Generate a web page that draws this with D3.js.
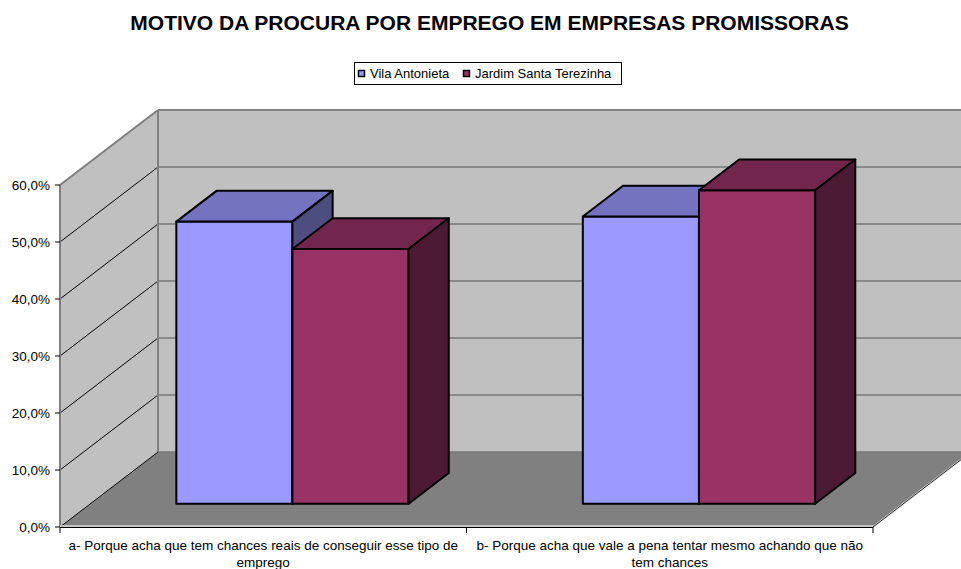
<!DOCTYPE html>
<html>
<head>
<meta charset="utf-8">
<script src="https://cdn.jsdelivr.net/npm/d3@7/dist/d3.min.js"></script>
<style>
  html, body { margin: 0; padding: 0; background: #fff; }
  svg { display: block; font-family: Arial, "Liberation Sans", sans-serif; }
</style>
</head>
<body>
<svg id="chart" width="961" height="569"></svg>
<script>
// Survey answers: why people look for work in promising companies
const categories = [
  ["a- Porque acha que tem chances reais de conseguir esse tipo de", "emprego"],
  ["b- Porque acha que vale a pena tentar mesmo achando que não", "tem chances"]
];
const seriesNames = ["Vila Antonieta", "Jardim Santa Terezinha"];
const vilaAntonieta = [0.495, 0.504];
const jardimSantaTerezinha = [0.447, 0.550];
const yTicks = [0, 0.1, 0.2, 0.3, 0.4, 0.5, 0.6];

const seriesValues = [vilaAntonieta, jardimSantaTerezinha];
const faceColors = [
  { front: "#9999FF", top: "#7373BF", side: "#4D4D80" },
  { front: "#993366", top: "#73264D", side: "#4D1A33" }
];

const svg = d3.select("#chart");

// Oblique projection: depth fraction d shifts points right and up
const depthDX = 98, depthDY = -75;
const catIdx = categories.map((c, i) => i);
const x = d3.scaleBand().domain(catIdx).range([60, 873]).padding(0);
const y = d3.scaleLinear().domain([0, 0.6]).range([527, 185]);
const proj = (px, v, d) => [px + d * depthDX, y(v) + d * depthDY];
const poly = pts => pts.map(p => p.join(",")).join(" ");

// Title
svg.append("text")
  .attr("x", 489.5).attr("y", 30)
  .attr("text-anchor", "middle")
  .attr("font-size", 21).attr("font-weight", "bold")
  .text("MOTIVO DA PROCURA POR EMPREGO EM EMPRESAS PROMISSORAS");

// Legend
const legend = svg.append("g");
legend.append("rect").attr("x", 354.5).attr("y", 62.5).attr("width", 267).attr("height", 22)
  .attr("fill", "#fff").attr("stroke", "#000");
const legendX = [358, 463];
seriesNames.forEach((name, i) => {
  legend.append("rect").attr("x", legendX[i] + 0.5).attr("y", 70.5).attr("width", 6).attr("height", 6)
    .attr("fill", faceColors[i].front).attr("stroke", "#000").attr("stroke-width", 1.5);
  legend.append("text").attr("x", legendX[i] + 12).attr("y", 78)
    .attr("font-size", 13).text(name);
});

const x0 = x.range()[0], x1 = x.range()[1];
const vMax = y.domain()[1];

// Floor
svg.append("polygon")
  .attr("points", poly([proj(x0, 0, 0), proj(x1, 0, 0), proj(x1, 0, 1), proj(x0, 0, 1)]))
  .attr("fill", "#808080");

// Side wall
svg.append("polygon")
  .attr("points", poly([proj(x0, 0, 0), proj(x0, vMax, 0), proj(x0, vMax, 1), proj(x0, 0, 1)]))
  .attr("fill", "#C0C0C0");

// Back wall
svg.append("polygon")
  .attr("points", poly([proj(x0, 0, 1), proj(x0, vMax, 1), proj(x1, vMax, 1), proj(x1, 0, 1)]))
  .attr("fill", "#C0C0C0");

// Gridlines on back wall and side wall
yTicks.filter(t => t > 0 && t < vMax).forEach(t => {
  const a = proj(x0, t, 1), b = proj(x1, t, 1);
  svg.append("line").attr("x1", a[0]).attr("y1", a[1]).attr("x2", b[0]).attr("y2", b[1])
    .attr("stroke", "#555").attr("stroke-width", 1);
});
yTicks.filter(t => t < vMax).forEach(t => {
  const a = proj(x0, t, 0), b = proj(x0, t, 1);
  svg.append("line").attr("x1", a[0]).attr("y1", a[1]).attr("x2", b[0]).attr("y2", b[1])
    .attr("stroke", "#000").attr("stroke-width", 1);
});

// Wall edges
const edge = (p, q, color, w) => svg.append("line")
  .attr("x1", p[0]).attr("y1", p[1]).attr("x2", q[0]).attr("y2", q[1])
  .attr("stroke", color).attr("stroke-width", w);
edge(proj(x0, 0, 1), proj(x0, vMax, 1), "#808080", 2);
edge(proj(x0, vMax, 0), proj(x0, vMax, 1), "#808080", 2);
edge(proj(x0, vMax, 1), proj(x1, vMax, 1), "#808080", 2);
edge(proj(x0, 0, 1), proj(x1, 0, 1), "#7a7a7a", 1.5);
edge(proj(x1, 0, 0), proj(x1, 0, 1), "#ddd", 2);
edge(proj(x1, 0, 0), proj(x1, 0, 1), "#000", 0.8);

// Bars: Excel-like gap width 150%, placed in the middle of the floor depth
const barW = x.bandwidth() / 3.5;
const dFront = 0.31, dBack = 0.72;
const bars = svg.append("g")
  .attr("stroke", "#000").attr("stroke-width", 2).attr("stroke-linejoin", "round");
catIdx.forEach(ci => {
  seriesValues.forEach((vals, si) => {
    const v = vals[ci];
    const left = x(ci) + barW * (0.74 + si);
    const right = left + barW;
    const c = faceColors[si];
    bars.append("polygon").attr("fill", c.front)
      .attr("points", poly([proj(left, 0, dFront), proj(right, 0, dFront), proj(right, v, dFront), proj(left, v, dFront)]));
    bars.append("polygon").attr("fill", c.top)
      .attr("points", poly([proj(left, v, dFront), proj(right, v, dFront), proj(right, v, dBack), proj(left, v, dBack)]));
    bars.append("polygon").attr("fill", c.side)
      .attr("points", poly([proj(right, 0, dFront), proj(right, 0, dBack), proj(right, v, dBack), proj(right, v, dFront)]));
  });
});

// Y axis
const yAxis = svg.append("g");
yAxis.append("line").attr("x1", x0).attr("x2", x0).attr("y1", y(0)).attr("y2", y(vMax))
  .attr("stroke", "#808080").attr("stroke-width", 2);
yTicks.forEach(t => {
  yAxis.append("line").attr("x1", x0 - 5).attr("x2", x0).attr("y1", y(t)).attr("y2", y(t))
    .attr("stroke", "#000").attr("stroke-width", 1);
  yAxis.append("text").attr("x", x0 - 10).attr("y", y(t)).attr("dy", "0.35em")
    .attr("text-anchor", "end").attr("font-size", 13.5)
    .text(d3.format(".1f")(t * 100).replace(".", ",") + "%");
});

// X axis
const xAxis = svg.append("g");
xAxis.append("line").attr("x1", x0).attr("x2", x1).attr("y1", y(0) - 1).attr("y2", y(0) - 1)
  .attr("stroke", "#ddd").attr("stroke-width", 1.5);
xAxis.append("line").attr("x1", x0).attr("x2", x1).attr("y1", y(0) + 0.5).attr("y2", y(0) + 0.5)
  .attr("stroke", "#000").attr("stroke-width", 1);
[x0, ...catIdx.slice(1).map(i => x(i)), x1].forEach(px => {
  xAxis.append("line").attr("x1", px).attr("x2", px).attr("y1", y(0)).attr("y2", y(0) + 6)
    .attr("stroke", "#000").attr("stroke-width", 1);
});
catIdx.forEach(ci => {
  const t = xAxis.append("text").attr("text-anchor", "middle").attr("font-size", 13.5);
  categories[ci].forEach((line, li) => {
    t.append("tspan").attr("x", x(ci) + x.bandwidth() / 2).attr("y", 550 + li * 17).text(line);
  });
});
</script>
</body>
</html>
